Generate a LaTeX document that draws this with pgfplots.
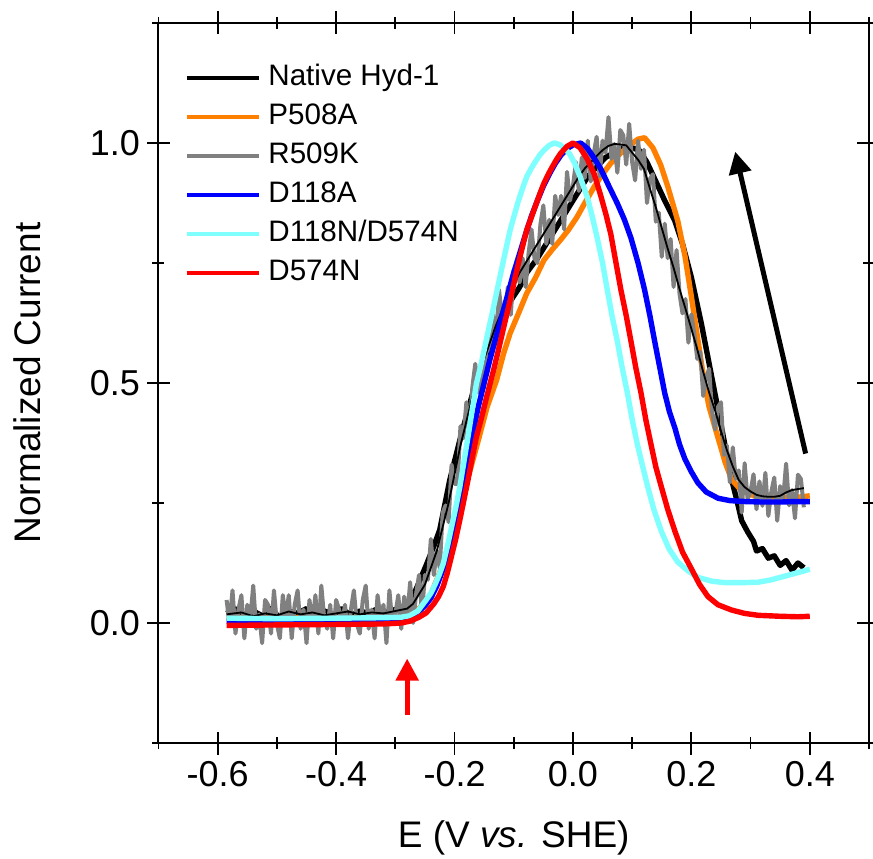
\documentclass[border=0pt]{standalone}
\usepackage{fontspec}
\setmainfont{Liberation Sans}
\usepackage{pgfplots}
\pgfplotsset{compat=1.18}
\usetikzlibrary{arrows.meta}
\definecolor{corange}{RGB}{255,128,0}
\definecolor{cgrey}{RGB}{128,128,128}
\definecolor{cblue}{RGB}{0,0,255}
\definecolor{ccyan}{RGB}{128,255,255}
\definecolor{cred}{RGB}{255,0,0}
\begin{document}
\begin{tikzpicture}
\useasboundingbox (-79.25pt,-57.5pt) rectangle (357.25pt,371.5pt);
\begin{axis}[
  at={(0,0)}, anchor=south west,
  scale only axis, width=355.25pt, height=360pt,
  xmin=-0.7, xmax=0.5, ymin=-0.25, ymax=1.25,
  xtick={-0.6,-0.4,-0.2,0,0.2,0.4},
  xticklabels={-0.6,-0.4,-0.2,0.0,0.2,0.4},
  minor xtick={-0.7,-0.5,-0.3,-0.1,0.1,0.3,0.5},
  ytick={0,0.5,1},
  yticklabels={0.0,0.5,1.0},
  minor ytick={-0.25,0.25,0.75,1.25},
  tick align=center,
  major tick length=11.5pt,
  minor tick length=6pt,
  tick style={line width=0.9pt, black},
  axis line style={line width=1pt},
  tick label style={font=\fontsize{18}{18}\selectfont},
  xlabel={E (V \textit{vs.} SHE)},
  ylabel={Normalized Current},
  label style={font=\fontsize{18.5}{18.5}\selectfont},
  xlabel style={at={(axis description cs:0.5,-0.1458)}, anchor=base, inner sep=0pt},
  ylabel style={at={(axis description cs:-0.1851,0.5)}, anchor=center, inner sep=0pt},
  legend style={draw=none, fill=none, at={(axis cs:-0.6566,1.1717)}, anchor=north west,
    font=\fontsize{14.8}{14.8}\selectfont, row sep=2.5pt, column sep=2.3pt, inner sep=0pt,
    nodes={inner sep=1.5pt, text height=11pt, text depth=3pt}},
  legend cell align=left,
  legend image code/.code={\draw[#1, line width=2.1pt] (0pt,0pt) -- (36pt,0pt);},
  line join=round,
]
\addplot[black, line width=2.7pt] coordinates {
(-0.585,0.02) (-0.57,0.03) (-0.555,0.012) (-0.54,0.025) (-0.525,0.015) (-0.51,0.03) (-0.495,0.01) (-0.48,0.025) (-0.465,0.02) (-0.45,0.03) (-0.435,0.012) (-0.42,0.025) (-0.405,0.018) (-0.39,0.03) (-0.375,0.015) (-0.36,0.025) (-0.345,0.02) (-0.33,0.03) (-0.315,0.022) (-0.3,0.028) (-0.29,0.032) (-0.28,0.04) (-0.265,0.07) (-0.248,0.12) (-0.235,0.16) (-0.225,0.194) (-0.208,0.298) (-0.191,0.381) (-0.174,0.458) (-0.163,0.506) (-0.15,0.55) (-0.134,0.60) (-0.12,0.635) (-0.106,0.67) (-0.09,0.70) (-0.078,0.73) (-0.06,0.76) (-0.05,0.78) (-0.035,0.81) (-0.02,0.84) (0.0,0.88) (0.01,0.90) (0.025,0.93) (0.04,0.95) (0.055,0.97) (0.07,0.98) (0.085,0.99) (0.1,0.99) (0.112,0.985) (0.125,0.96) (0.14,0.92) (0.155,0.88) (0.172,0.838) (0.185,0.79) (0.2,0.72) (0.217,0.623) (0.234,0.515) (0.251,0.407) (0.268,0.299) (0.278,0.25) (0.285,0.213) (0.295,0.19) (0.305,0.17) (0.31,0.15) (0.32,0.155) (0.33,0.135) (0.34,0.14) (0.35,0.12) (0.36,0.13) (0.37,0.11) (0.38,0.125) (0.39,0.115)
};
\addlegendentry{Native Hyd-1}
\addplot[corange, line width=2.7pt] coordinates {
(-0.585,0.01) (-0.5,0.012) (-0.4,0.01) (-0.3,0.012) (-0.28,0.015) (-0.26,0.03) (-0.24,0.06) (-0.22,0.12) (-0.2,0.2) (-0.18,0.29) (-0.16,0.38) (-0.145,0.45) (-0.129,0.506) (-0.117,0.562) (-0.106,0.604) (-0.092,0.645) (-0.078,0.687) (-0.063,0.72) (-0.049,0.756) (-0.035,0.778) (-0.021,0.798) (-0.007,0.82) (0.007,0.846) (0.02,0.875) (0.036,0.909) (0.05,0.935) (0.064,0.958) (0.08,0.978) (0.095,0.995) (0.11,1.008) (0.121,1.011) (0.135,0.99) (0.148,0.955) (0.16,0.91) (0.177,0.838) (0.189,0.766) (0.2,0.68) (0.211,0.59) (0.222,0.50) (0.23,0.45) (0.240,0.407) (0.25,0.365) (0.257,0.335) (0.268,0.299) (0.285,0.275) (0.31,0.263) (0.35,0.26) (0.38,0.262) (0.40,0.265)
};
\addlegendentry{P508A}
\addplot[cgrey, line width=2pt] coordinates {
(-0.585,0.048) (-0.58,-0.002) (-0.575,0.068) (-0.57,-0.022) (-0.565,0.028) (-0.56,0.058) (-0.555,-0.032) (-0.55,0.038) (-0.545,0.008) (-0.54,0.078) (-0.535,-0.012) (-0.53,0.018) (-0.525,-0.042) (-0.52,0.048) (-0.515,0.038) (-0.51,-0.022) (-0.505,0.068) (-0.5,-0.002) (-0.495,-0.032) (-0.49,0.058)
(-0.485,0.008) (-0.48,0.058) (-0.475,-0.032) (-0.47,0.038) (-0.465,0.068) (-0.46,-0.012) (-0.455,0.028) (-0.45,-0.042) (-0.445,0.048) (-0.44,-0.002) (-0.435,0.058) (-0.43,-0.022) (-0.425,0.078) (-0.42,0.008) (-0.415,-0.012) (-0.41,0.038) (-0.405,-0.032) (-0.4,0.048) (-0.395,0.028) (-0.39,-0.002)
(-0.385,0.038) (-0.38,-0.032) (-0.375,0.028) (-0.37,0.068) (-0.365,-0.002) (-0.36,-0.022) (-0.355,0.048) (-0.35,0.078) (-0.345,-0.012) (-0.34,0.028) (-0.335,-0.032) (-0.33,0.058) (-0.325,0.008) (-0.32,0.038) (-0.315,-0.042) (-0.31,0.068) (-0.305,-0.002) (-0.3,0.018) (-0.295,0.058) (-0.29,-0.012)
(-0.285,0.055) (-0.28,0.010) (-0.275,0.085) (-0.27,0.0) (-0.265,0.06) (-0.26,0.10) (-0.255,0.02) (-0.25,0.10) (-0.245,0.09) (-0.24,0.175) (-0.235,0.10) (-0.23,0.15) (-0.225,0.115) (-0.22,0.23) (-0.215,0.245) (-0.21,0.21) (-0.205,0.33) (-0.2,0.29) (-0.195,0.29) (-0.19,0.41)
(-0.185,0.385) (-0.18,0.46) (-0.175,0.395) (-0.17,0.49) (-0.165,0.54) (-0.16,0.48) (-0.155,0.54) (-0.15,0.49) (-0.145,0.60) (-0.14,0.565) (-0.135,0.643) (-0.13,0.58) (-0.125,0.695) (-0.12,0.64) (-0.115,0.635) (-0.11,0.70) (-0.105,0.642) (-0.1,0.735) (-0.095,0.728) (-0.09,0.71)
(-0.085,0.76) (-0.08,0.70) (-0.075,0.77) (-0.07,0.82) (-0.065,0.76) (-0.06,0.75) (-0.055,0.83) (-0.05,0.87) (-0.045,0.79) (-0.04,0.84) (-0.035,0.79) (-0.03,0.89) (-0.025,0.85) (-0.02,0.89) (-0.015,0.82) (-0.01,0.94) (-0.005,0.88) (0.0,0.91) (0.005,0.96) (0.01,0.90)
(0.015,0.97) (0.02,0.927) (0.025,1.005) (0.03,0.92) (0.035,0.977) (0.04,1.013) (0.045,0.93) (0.05,1.005) (0.055,0.98) (0.06,1.054) (0.065,0.967) (0.07,0.998) (0.075,0.938) (0.08,1.027) (0.085,1.016) (0.09,0.955) (0.095,1.04) (0.1,0.96) (0.105,0.922) (0.11,1.005)
(0.115,0.946) (0.12,0.986) (0.125,0.875) (0.13,0.925) (0.135,0.935) (0.14,0.836) (0.145,0.855) (0.15,0.763) (0.155,0.832) (0.16,0.76) (0.165,0.80) (0.17,0.70) (0.175,0.777) (0.18,0.686) (0.185,0.645) (0.19,0.675) (0.195,0.584) (0.2,0.643) (0.205,0.602) (0.21,0.55)
(0.215,0.565) (0.22,0.473) (0.225,0.512) (0.23,0.53) (0.235,0.44) (0.24,0.403) (0.245,0.45) (0.25,0.46) (0.255,0.35) (0.26,0.37) (0.265,0.293) (0.27,0.366) (0.275,0.30) (0.28,0.318) (0.285,0.23) (0.29,0.333) (0.295,0.258) (0.3,0.274) (0.305,0.31) (0.31,0.237)
(0.315,0.295) (0.32,0.244) (0.325,0.313) (0.33,0.223) (0.335,0.273) (0.34,0.303) (0.345,0.213) (0.35,0.285) (0.355,0.258) (0.36,0.332) (0.365,0.245) (0.37,0.277) (0.375,0.218) (0.38,0.309) (0.385,0.30) (0.39,0.241)
};
\addlegendentry{R509K}
\addplot[black, line width=0.9pt, forget plot] coordinates {
(-0.585,0.018) (-0.56,0.022) (-0.54,0.014) (-0.52,0.02) (-0.5,0.016) (-0.48,0.024) (-0.46,0.018) (-0.44,0.022) (-0.42,0.016) (-0.40,0.02) (-0.38,0.024) (-0.36,0.018) (-0.34,0.022) (-0.32,0.02) (-0.30,0.025) (-0.28,0.03) (-0.27,0.04) (-0.26,0.06) (-0.25,0.08) (-0.24,0.115) (-0.23,0.15) (-0.22,0.20) (-0.21,0.25) (-0.2,0.31) (-0.19,0.37) (-0.18,0.42) (-0.17,0.47) (-0.16,0.51) (-0.15,0.55) (-0.14,0.585) (-0.13,0.62) (-0.12,0.65) (-0.11,0.68) (-0.1,0.705) (-0.09,0.73) (-0.08,0.75) (-0.07,0.77) (-0.06,0.79) (-0.05,0.81) (-0.04,0.83) (-0.03,0.85) (-0.02,0.87) (-0.01,0.89) (0.0,0.91) (0.01,0.93) (0.02,0.947) (0.03,0.96) (0.04,0.973) (0.05,0.985) (0.06,0.994) (0.07,0.998) (0.08,0.997) (0.09,0.995) (0.1,0.98) (0.11,0.965) (0.12,0.946) (0.13,0.905) (0.14,0.866) (0.15,0.823) (0.16,0.78) (0.17,0.74) (0.18,0.696) (0.19,0.655) (0.2,0.613) (0.21,0.57) (0.22,0.523) (0.23,0.48) (0.24,0.443) (0.25,0.40) (0.26,0.36) (0.27,0.326) (0.28,0.298) (0.29,0.283) (0.3,0.274) (0.31,0.267) (0.32,0.264) (0.33,0.263) (0.34,0.263) (0.35,0.265) (0.36,0.272) (0.37,0.277) (0.38,0.279) (0.39,0.281)
};
\addplot[cblue, line width=2.7pt] coordinates {
(-0.585,0.004) (-0.5,0.003) (-0.4,0.005) (-0.32,0.006) (-0.3,0.007) (-0.28,0.012) (-0.27,0.017) (-0.26,0.025) (-0.25,0.036) (-0.24,0.052) (-0.23,0.077) (-0.22,0.11) (-0.21,0.155) (-0.2,0.21) (-0.19,0.27) (-0.18,0.33) (-0.17,0.39) (-0.16,0.45) (-0.15,0.50) (-0.14,0.55) (-0.13,0.595) (-0.12,0.64) (-0.11,0.685) (-0.10,0.73) (-0.09,0.77) (-0.08,0.81) (-0.07,0.848) (-0.06,0.88) (-0.05,0.91) (-0.04,0.935) (-0.03,0.957) (-0.02,0.975) (-0.01,0.988) (0.0,0.996) (0.013,1.0) (0.025,0.988) (0.035,0.97) (0.047,0.946) (0.06,0.912) (0.075,0.874) (0.087,0.84) (0.098,0.802) (0.11,0.75) (0.121,0.694) (0.13,0.64) (0.138,0.587) (0.147,0.53) (0.155,0.479) (0.163,0.44) (0.172,0.407) (0.18,0.372) (0.189,0.342) (0.2,0.315) (0.211,0.292) (0.225,0.273) (0.245,0.26) (0.265,0.255) (0.291,0.253) (0.32,0.252) (0.35,0.252) (0.375,0.253) (0.40,0.253)
};
\addlegendentry{D118A}
\addplot[ccyan, line width=2.7pt] coordinates {
(-0.585,0.01) (-0.5,0.009) (-0.4,0.01) (-0.32,0.011) (-0.29,0.012) (-0.276,0.015) (-0.262,0.025) (-0.248,0.048) (-0.24,0.062) (-0.233,0.08) (-0.226,0.1) (-0.219,0.124) (-0.212,0.16) (-0.205,0.20) (-0.198,0.24) (-0.191,0.284) (-0.184,0.337) (-0.177,0.39) (-0.17,0.445) (-0.163,0.499) (-0.155,0.54) (-0.148,0.58) (-0.141,0.62) (-0.134,0.659) (-0.127,0.70) (-0.12,0.74) (-0.113,0.78) (-0.106,0.819) (-0.099,0.85) (-0.092,0.88) (-0.085,0.906) (-0.078,0.930) (-0.07,0.948) (-0.063,0.962) (-0.056,0.975) (-0.049,0.985) (-0.04,0.995) (-0.032,1.0) (-0.023,0.997) (-0.015,0.99) (-0.006,0.978) (0.002,0.96) (0.012,0.93) (0.024,0.888) (0.032,0.85) (0.041,0.802) (0.05,0.75) (0.058,0.694) (0.066,0.64) (0.075,0.587) (0.083,0.533) (0.092,0.479) (0.1,0.424) (0.109,0.371) (0.118,0.325) (0.126,0.285) (0.137,0.235) (0.149,0.192) (0.162,0.155) (0.177,0.127) (0.195,0.108) (0.211,0.095) (0.235,0.087) (0.257,0.084) (0.285,0.084) (0.313,0.085) (0.335,0.09) (0.359,0.098) (0.38,0.105) (0.40,0.112)
};
\addlegendentry{D118N/D574N}
\addplot[cred, line width=2.7pt] coordinates {
(-0.585,-0.005) (-0.5,-0.004) (-0.4,-0.003) (-0.32,-0.002) (-0.29,0.0) (-0.275,0.004) (-0.26,0.012) (-0.248,0.021) (-0.235,0.04) (-0.227,0.055) (-0.219,0.076) (-0.212,0.105) (-0.205,0.14) (-0.198,0.175) (-0.191,0.215) (-0.184,0.257) (-0.177,0.30) (-0.17,0.345) (-0.163,0.388) (-0.155,0.425) (-0.148,0.46) (-0.141,0.494) (-0.134,0.527) (-0.127,0.563) (-0.12,0.60) (-0.113,0.637) (-0.106,0.673) (-0.099,0.712) (-0.092,0.75) (-0.085,0.785) (-0.078,0.819) (-0.07,0.846) (-0.063,0.87) (-0.056,0.894) (-0.049,0.916) (-0.042,0.934) (-0.035,0.95) (-0.028,0.965) (-0.021,0.978) (-0.01,0.993) (0.0,1.0) (0.012,0.99) (0.024,0.967) (0.036,0.935) (0.047,0.89) (0.056,0.85) (0.064,0.81) (0.072,0.755) (0.081,0.694) (0.09,0.64) (0.098,0.587) (0.106,0.533) (0.115,0.479) (0.123,0.424) (0.132,0.371) (0.14,0.325) (0.149,0.285) (0.16,0.237) (0.172,0.192) (0.185,0.148) (0.2,0.113) (0.214,0.08) (0.228,0.055) (0.245,0.038) (0.268,0.027) (0.29,0.02) (0.313,0.016) (0.35,0.014) (0.38,0.013) (0.40,0.014)
};
\addlegendentry{D574N}
\draw[black, line width=2.5pt, -{Triangle[length=11pt,width=11pt]}] (axis cs:0.393,0.353) -- (axis cs:0.274,0.982);
\draw[cred, line width=2.6pt, -{Triangle[length=11pt,width=11pt]}] (axis cs:-0.28,-0.192) -- (axis cs:-0.28,-0.074);
\end{axis}
\end{tikzpicture}
\end{document}
